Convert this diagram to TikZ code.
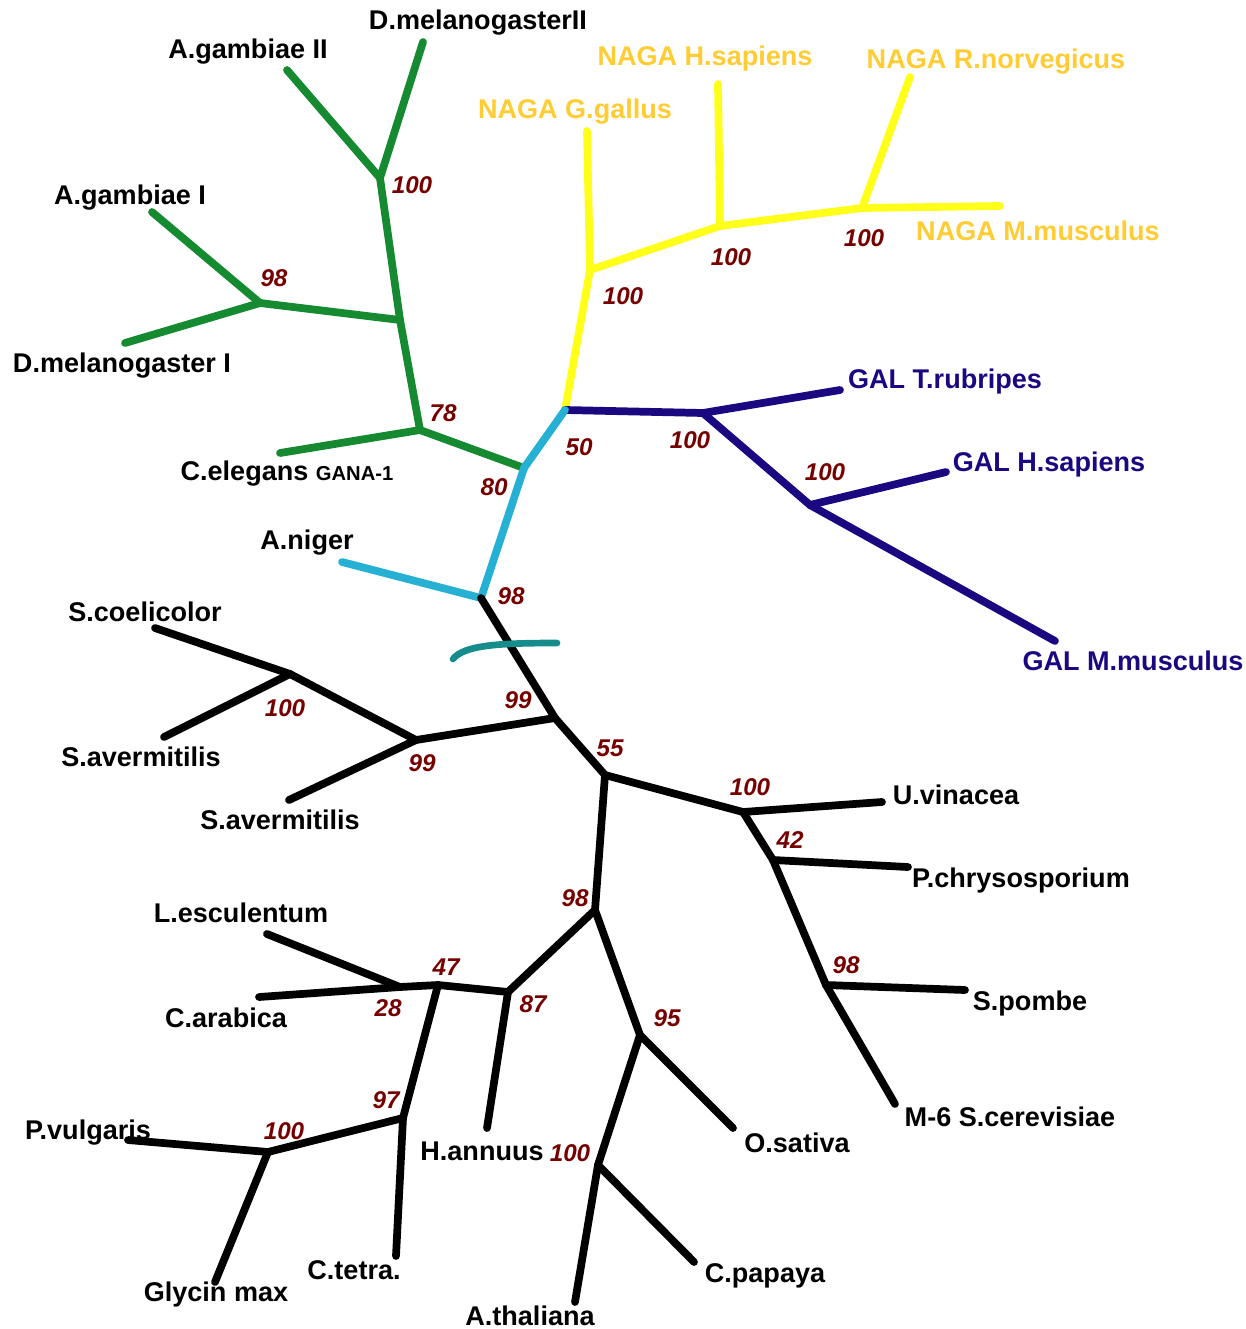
\documentclass[tikz,border=0pt]{standalone}
\usepackage{fontspec}
\setmainfont{Liberation Sans}
\definecolor{treegreen}{RGB}{22,138,48}
\definecolor{treeyellow}{RGB}{255,255,26}
\definecolor{nagatext}{RGB}{255,204,51}
\definecolor{treenavy}{RGB}{26,8,128}
\definecolor{treecyan}{RGB}{38,176,212}
\definecolor{treeteal}{RGB}{22,140,140}
\definecolor{bootred}{RGB}{118,0,0}
\begin{document}
\begin{tikzpicture}[x=0.02cm, y=-0.02cm,
    branch/.style ={line width=4.4pt, line cap=round, line join=round},
    taxon/.style ={font=\bfseries\fontsize{15.4}{18}\selectfont, inner sep=0pt},
    boot/.style ={font=\bfseries\itshape\fontsize{13.8}{16}\selectfont, text=bootred, inner sep=0pt}]
   \useasboundingbox (0,0) rectangle (1245,1329);

   % inner nodes
   \coordinate (g100) at (380,178);
   \coordinate (gj) at (400,320);
   \coordinate (g98) at (260,303);
   \coordinate (g78) at (420,430);
   \coordinate (c80) at (524,468);
   \coordinate (c50) at (565,410);
   \coordinate (c98) at (481,598);
   \coordinate (y100a) at (590,270);
   \coordinate (y100b) at (720,226);
   \coordinate (y100c) at (862,208);
   \coordinate (b100a) at (703,413);
   \coordinate (b100b) at (810,505);
   \coordinate (k99) at (555,718);
   \coordinate (s99) at (416,740);
   \coordinate (s100) at (290,674);
   \coordinate (k55) at (605,775);
   \coordinate (f100) at (743,812);
   \coordinate (f42) at (773,860);
   \coordinate (f98) at (826,985);
   \coordinate (p98) at (595,910);
   \coordinate (p95) at (640,1035);
   \coordinate (p100) at (598,1165);
   \coordinate (q87) at (508,992);
   \coordinate (q47) at (438,985);
   \coordinate (q28) at (400,987);
   \coordinate (r97) at (403,1118);
   \coordinate (r100) at (268,1152);

   % branch ends
   \coordinate (tDmII) at (423,42);
   \coordinate (tAgII) at (287,70);
   \coordinate (tAgI) at (152,212);
   \coordinate (tDmI) at (125,343);
   \coordinate (tCe) at (280,453);
   \coordinate (tAn) at (342,562);
   \coordinate (tGg) at (587,131);
   \coordinate (tHs) at (718,84);
   \coordinate (tRn) at (910,77);
   \coordinate (tMm) at (1000,206);
   \coordinate (tTr) at (840,390);
   \coordinate (tGHs) at (946,472);
   \coordinate (tGMm) at (1055,641);
   \coordinate (tSc) at (155,628);
   \coordinate (tSa) at (164,737);
   \coordinate (tSb) at (289,800);
   \coordinate (tUv) at (882,802);
   \coordinate (tPc) at (908,867);
   \coordinate (tSp) at (965,990);
   \coordinate (tScer) at (895,1104);
   \coordinate (tOs) at (733,1128);
   \coordinate (tCp) at (694,1262);
   \coordinate (tAt) at (575,1302);
   \coordinate (tHa) at (487,1128);
   \coordinate (tLe) at (267,934);
   \coordinate (tCa) at (259,997);
   \coordinate (tCt) at (396,1256);
   \coordinate (tPv) at (128,1140);
   \coordinate (tGm) at (215,1282);

   % taxa
   \node[taxon] (DmII) at (478,23) {D.melanogasterII};
   \node[taxon] (AgII) at (248,52) {A.gambiae II};
   \node[taxon] (AgI) at (130,198) {A.gambiae I};
   \node[taxon] (DmI) at (122,366) {D.melanogaster I};
   \node[taxon] (Ce) at (287,474) {C.elegans {\fontsize{11.5}{14}\selectfont GANA-1}};
   \node[taxon] (An) at (307,543) {A.niger};
   \node[taxon, text=nagatext] (Gg) at (575,112) {NAGA G.gallus};
   \node[taxon, text=nagatext] (Hs) at (705,58) {NAGA H.sapiens};
   \node[taxon, text=nagatext] (Rn) at (996,62) {NAGA R.norvegicus};
   \node[taxon, text=nagatext] (Mm) at (1038,231) {NAGA M.musculus};
   \node[taxon, text=treenavy] (Tr) at (945,381) {GAL T.rubripes};
   \node[taxon, text=treenavy] (GHs) at (1049,464) {GAL H.sapiens};
   \node[taxon, text=treenavy] (GMm) at (1133,661) {GAL M.musculus};
   \node[taxon] (Sc) at (145,612) {S.coelicolor};
   \node[taxon] (Sa) at (141,757) {S.avermitilis};
   \node[taxon] (Sb) at (280,820) {S.avermitilis};
   \node[taxon] (Uv) at (956,795) {U.vinacea};
   \node[taxon] (Pc) at (1021,880) {P.chrysosporium};
   \node[taxon] (Sp) at (1030,1003) {S.pombe};
   \node[taxon] (Scer) at (1010,1117) {M-6 S.cerevisiae};
   \node[taxon] (Le) at (241,913) {L.esculentum};
   \node[taxon] (Ca) at (226,1018) {C.arabica};
   \node[taxon] (Pv) at (88,1133) {P.vulgaris};
   \node[taxon] (Ha) at (482,1151) {H.annuus};
   \node[taxon] (Os) at (797,1143) {O.sativa};
   \node[taxon] (Cp) at (765,1276) {C.papaya};
   \node[taxon] (At) at (530,1316) {A.thaliana};
   \node[taxon] (Gm) at (216,1294) {Glycin max};
   \node[taxon] (Ct) at (354,1270) {C.tetra.};

   % bootstrap values
   \node[boot] at (412,185) {100};
   \node[boot] at (274,278) {98};
   \node[boot] at (443,413) {78};
   \node[boot] at (494,487) {80};
   \node[boot] at (579,447) {50};
   \node[boot] at (511,596) {98};
   \node[boot] at (623,296) {100};
   \node[boot] at (731,257) {100};
   \node[boot] at (864,238) {100};
   \node[boot] at (690,440) {100};
   \node[boot] at (825,472) {100};
   \node[boot] at (518,700) {99};
   \node[boot] at (422,763) {99};
   \node[boot] at (285,708) {100};
   \node[boot] at (610,748) {55};
   \node[boot] at (750,787) {100};
   \node[boot] at (790,840) {42};
   \node[boot] at (846,965) {98};
   \node[boot] at (575,898) {98};
   \node[boot] at (667,1018) {95};
   \node[boot] at (570,1153) {100};
   \node[boot] at (533,1004) {87};
   \node[boot] at (446,967) {47};
   \node[boot] at (388,1008) {28};
   \node[boot] at (386,1100) {97};
   \node[boot] at (284,1131) {100};

   % green
   \draw[branch, treegreen] (g100) to (tDmII);
   \draw[branch, treegreen] (g100) to (tAgII);
   \draw[branch, treegreen] (g100) to (gj);
   \draw[branch, treegreen] (gj) to (g98);
   \draw[branch, treegreen] (g98) to (tAgI);
   \draw[branch, treegreen] (g98) to (tDmI);
   \draw[branch, treegreen] (gj) to (g78);
   \draw[branch, treegreen] (g78) to (tCe);
   \draw[branch, treegreen] (g78) to (c80);

   % yellow
   \draw[branch, treeyellow] (c50) to (y100a);
   \draw[branch, treeyellow] (y100a) to (tGg);
   \draw[branch, treeyellow] (y100a) to (y100b);
   \draw[branch, treeyellow] (y100b) to (tHs);
   \draw[branch, treeyellow] (y100b) to (y100c);
   \draw[branch, treeyellow] (y100c) to (tRn);
   \draw[branch, treeyellow] (y100c) to (tMm);

   % navy
   \draw[branch, treenavy] (c50) to (b100a);
   \draw[branch, treenavy] (b100a) to (tTr);
   \draw[branch, treenavy] (b100a) to (b100b);
   \draw[branch, treenavy] (b100b) to (tGHs);
   \draw[branch, treenavy] (b100b) to (tGMm);

   % cyan
   \draw[branch, treecyan] (c80) to (c50);
   \draw[branch, treecyan] (c80) to (c98);
   \draw[branch, treecyan] (c98) to (tAn);

   % black
   \draw[branch] (c98) to (k99);
   \draw[branch] (k99) to (s99);
   \draw[branch] (s99) to (s100);
   \draw[branch] (s100) to (tSc);
   \draw[branch] (s100) to (tSa);
   \draw[branch] (s99) to (tSb);
   \draw[branch] (k99) to (k55);
   \draw[branch] (k55) to (f100);
   \draw[branch] (f100) to (tUv);
   \draw[branch] (f100) to (f42);
   \draw[branch] (f42) to (tPc);
   \draw[branch] (f42) to (f98);
   \draw[branch] (f98) to (tSp);
   \draw[branch] (f98) to (tScer);
   \draw[branch] (k55) to (p98);
   \draw[branch] (p98) to (p95);
   \draw[branch] (p95) to (tOs);
   \draw[branch] (p95) to (p100);
   \draw[branch] (p100) to (tCp);
   \draw[branch] (p100) to (tAt);
   \draw[branch] (p98) to (q87);
   \draw[branch] (q87) to (tHa);
   \draw[branch] (q87) to (q47);
   \draw[branch] (q47) to (q28);
   \draw[branch] (q28) to (tLe);
   \draw[branch] (q28) to (tCa);
   \draw[branch] (q47) to (r97);
   \draw[branch] (r97) to (tCt);
   \draw[branch] (r97) to (r100);
   \draw[branch] (r100) to (tPv);
   \draw[branch] (r100) to (tGm);

   % root mark
   \draw[line width=3.8pt, line cap=round, treeteal] (453,659) .. controls (464,645) and (500,643) .. (557,643);
 \end{tikzpicture}
\end{document}
